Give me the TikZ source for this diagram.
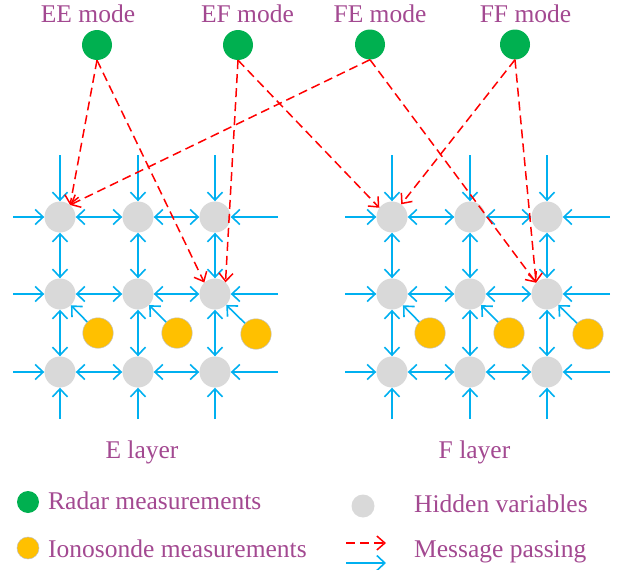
\documentclass[tikz,border=0pt]{standalone}
\usepackage{fontspec}
\setmainfont{Liberation Serif}
\usetikzlibrary{arrows.meta}
\definecolor{tpurple}{RGB}{163,73,145}
\definecolor{mgreen}{HTML}{00B050}
\definecolor{myellow}{HTML}{FFC000}
\definecolor{mgrey}{HTML}{D9D9D9}
\definecolor{mblue}{HTML}{00B0F0}
\definecolor{mred}{HTML}{FF0000}
\tikzset{
  lbl/.style={text=tpurple, font=\fontsize{25.5}{30}\selectfont, inner sep=0pt},
  hid/.style={circle, fill=mgrey, minimum size=31pt, inner sep=0pt},
  gdot/.style={circle, fill=mgreen, minimum size=30pt, inner sep=0pt},
  ydot/.style={circle, fill=myellow, draw=black!25, line width=0.5pt, minimum size=30.5pt, inner sep=0pt},
  barr/.style={draw=mblue, line width=1.6pt, -{Straight Barb[length=8pt,width=15pt]}},
  bbarr/.style={draw=mblue, line width=1.6pt, {Straight Barb[length=8pt,width=15pt]}-{Straight Barb[length=8pt,width=15pt]}},
  rarr/.style={draw=mred, line width=1.5pt, dash pattern=on 9pt off 5pt, -{Straight Barb[length=8pt,width=14pt]}}
}
\begin{document}
\begin{tikzpicture}[x=1pt,y=-1pt]
\useasboundingbox (0,0) rectangle (625,570);
% hidden variable grids
\foreach \L/\xo in {E/0,F/332} {
  \foreach \c/\x in {0/60,1/138,2/215} {
    \foreach \r/\y in {0/217,1/294,2/372} {
      \node[hid] (\L\r\c) at (\x+\xo,\y) {};
    }
  }
  \node[ydot] (Y\L0) at (98+\xo,333) {};
  \node[ydot] (Y\L1) at (177+\xo,333) {};
  \node[ydot] (Y\L2) at (256+\xo,334) {};
  \foreach \r/\y in {0/217,1/294,2/372} {
    \coordinate (\L L\r) at (13+\xo,\y);
    \coordinate (\L R\r) at (278+\xo,\y);
    \draw[barr] (\L L\r) -- (\L\r0);
    \draw[barr] (\L R\r) -- (\L\r2);
    \draw[bbarr] (\L\r0) -- (\L\r1);
    \draw[bbarr] (\L\r1) -- (\L\r2);
  }
  \foreach \c/\x in {0/60,1/138,2/215} {
    \coordinate (\L T\c) at (\x+\xo,155);
    \coordinate (\L B\c) at (\x+\xo,419);
    \draw[barr] (\L T\c) -- (\L0\c);
    \draw[barr] (\L B\c) -- (\L2\c);
    \draw[bbarr] (\L0\c) -- (\L1\c);
    \draw[bbarr] (\L1\c) -- (\L2\c);
    \draw[barr] (Y\L\c) -- (\L1\c);
  }
}
% radar modes
\node[gdot] (EE) at (97,45) {};
\node[gdot] (EF) at (238,45) {};
\node[gdot] (FE) at (370,44.5) {};
\node[gdot] (FF) at (515,44.5) {};
\node[lbl, anchor=base] (tEE) at (88,23) {EE mode};
\node[lbl, anchor=base] (tEF) at (247.5,22) {EF mode};
\node[lbl, anchor=base] (tFE) at (380,23) {FE mode};
\node[lbl, anchor=base] (tFF) at (525.5,22) {FF mode};
% message passing from radar modes
\draw[rarr] (EE.south) -- (E00.50);
\draw[rarr] (EE.south) -- (E12.133);
\draw[rarr] (EF.south) -- (E12.48);
\draw[rarr] (EF.south) -- (F00.144);
\draw[rarr] (FE.south) -- (E00.50);
\draw[rarr] (FE.south) -- (F12.134);
\draw[rarr] (FF.south) -- (F00.54);
\draw[rarr] (FF.south) -- (F12.134);
% layer labels
\node[lbl, anchor=base] (tEl) at (142,458) {E layer};
\node[lbl, anchor=base] (tFl) at (474.5,458) {F layer};
% legend
\node[gdot, minimum size=22pt] (lgG) at (28,502) {};
\node[lbl, anchor=base west] (lgGt) at (48,509) {Radar measurements};
\node[ydot, minimum size=22pt] (lgY) at (28,548) {};
\node[lbl, anchor=base west] (lgYt) at (48,557) {Ionosonde measurements};
\node[hid, minimum size=23pt] (lgH) at (363,506) {};
\node[lbl, anchor=base west] (lgHt) at (414,512) {Hidden variables};
\coordinate (lr1) at (346,543);
\coordinate (lr2) at (386,543);
\draw[rarr] (lr1) -- (lr2);
\coordinate (lb1) at (346,563);
\coordinate (lb2) at (386,563);
\draw[barr] (lb1) -- (lb2);
\node[lbl, anchor=base west] (lgMt) at (414,557) {Message passing};
\end{tikzpicture}
\end{document}
